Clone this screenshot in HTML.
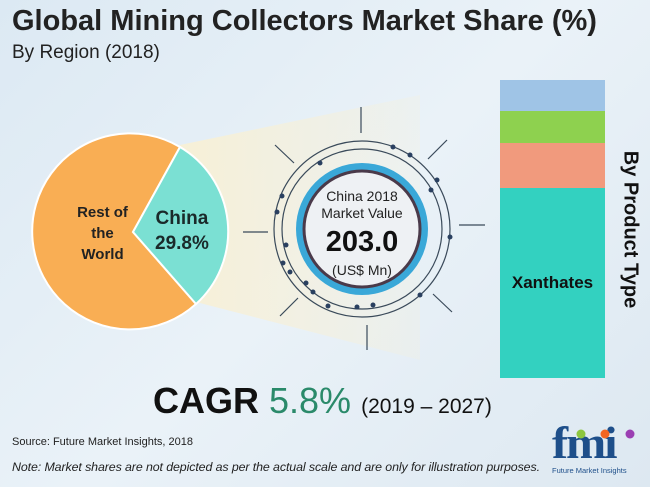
<!DOCTYPE html>
<html><head><style>
body{margin:0;width:650px;height:487px;overflow:hidden;font-family:"Liberation Sans",sans-serif;background:linear-gradient(135deg,#dce9f3 0%,#eaf2f8 50%,#dde8f1 100%);position:relative}
.t{position:absolute;white-space:nowrap}
</style></head><body>
<div class="t" style="left:12px;top:5px;font-size:29px;font-weight:bold;color:#222">Global Mining Collectors Market Share (%)</div>
<div class="t" style="left:12px;top:42px;font-size:19px;color:#222">By Region (2018)</div>
<svg width="650" height="487" style="position:absolute;left:0;top:0">
<defs><linearGradient id="bm" x1="0" x2="1"><stop offset="0" stop-color="#f8f0d5" stop-opacity="0.95"/><stop offset="1" stop-color="#f8f0d5" stop-opacity="0.2"/></linearGradient></defs>
<polygon points="180,145 420,95 420,360 196,302" fill="url(#bm)"/>
<path d="M133,232 L180,147 A98,98 0 1 0 196,304 Z" fill="#f9ae54" stroke="#fff" stroke-width="2"/>
<path d="M133,232 L180,147 A98,98 0 0 1 196,304 Z" fill="#7be0d3" stroke="#fff" stroke-width="2"/>
<g stroke="#3a4a5a" stroke-width="1.2" fill="none">
<circle cx="362" cy="229" r="80"/><circle cx="362" cy="229" r="88"/>
<line x1="361" y1="107" x2="361" y2="133"/><line x1="367" y1="325" x2="367" y2="350"/>
<line x1="243" y1="232" x2="268" y2="232"/><line x1="459" y1="225" x2="485" y2="225"/>
<line x1="275" y1="145" x2="294" y2="163"/><line x1="447" y1="140" x2="428" y2="159"/>
<line x1="280" y1="316" x2="298" y2="298"/><line x1="452" y1="312" x2="433" y2="294"/>
</g>
<g fill="#2a4060">
<circle cx="393" cy="147" r="2.5"/><circle cx="320" cy="163" r="2.5"/><circle cx="410" cy="155" r="2.5"/><circle cx="431" cy="190" r="2.5"/><circle cx="450" cy="237" r="2.5"/><circle cx="282" cy="196" r="2.5"/><circle cx="277" cy="212" r="2.5"/><circle cx="286" cy="245" r="2.5"/><circle cx="283" cy="263" r="2.5"/><circle cx="290" cy="272" r="2.5"/><circle cx="306" cy="283" r="2.5"/><circle cx="313" cy="292" r="2.5"/><circle cx="328" cy="306" r="2.5"/><circle cx="357" cy="307" r="2.5"/><circle cx="373" cy="305" r="2.5"/><circle cx="420" cy="295" r="2.5"/><circle cx="437" cy="180" r="2.5"/>
</g>
<circle cx="362" cy="229" r="66" fill="#3aa8d8"/>
<circle cx="362" cy="229" r="58" fill="#eef1f4" stroke="#4a3a4a" stroke-width="3"/>
<rect x="500" y="80" width="105" height="31" fill="#9fc4e6"/>
<rect x="500" y="111" width="105" height="32" fill="#8ed14f"/>
<rect x="500" y="143" width="105" height="45" fill="#f19a7d"/>
<rect x="500" y="188" width="105" height="190" fill="#33d1c0"/>
</svg>
<div class="t" style="left:55px;top:202px;width:95px;text-align:center;font-size:15px;font-weight:bold;line-height:21px;color:#222">Rest of<br>the<br>World</div>
<div class="t" style="left:155px;top:206px;font-size:19px;font-weight:bold;line-height:25px;color:#1a2a2a;text-align:center">China<br>29.8%</div>
<div class="t" style="left:302px;top:188px;width:120px;text-align:center;font-size:14px;color:#222;line-height:17px">China 2018<br>Market Value</div>
<div class="t" style="left:302px;top:226px;width:120px;text-align:center;font-size:29px;font-weight:bold;color:#111">203.0</div>
<div class="t" style="left:302px;top:262px;width:120px;text-align:center;font-size:14px;color:#222">(US$ Mn)</div>
<div class="t" style="left:500px;top:273px;width:105px;text-align:center;font-size:17px;font-weight:bold;color:#111">Xanthates</div>
<div class="t" style="left:540px;top:218px;width:180px;text-align:center;font-size:20px;font-weight:bold;color:#111;transform:rotate(90deg)">By Product Type</div>
<div class="t" style="left:153px;top:380px;font-size:36px;font-weight:bold;color:#111">CAGR <span style="color:#2a8a6a;font-weight:normal">5.8%</span> <span style="font-size:21px;font-weight:normal">(2019 – 2027)</span></div>
<div class="t" style="left:12px;top:436px;font-size:11px;color:#222">Source: Future Market Insights, 2018</div>
<div class="t" style="left:12px;top:460px;font-size:12.4px;font-style:italic;color:#222;letter-spacing:-0.1px">Note: Market shares are not depicted as per the actual scale and are only for illustration purposes.</div>
<div class="t" style="left:552px;top:416px;font-size:46px;font-weight:bold;font-family:'Liberation Serif',serif;color:#1e4f8a;letter-spacing:-2px;transform:scaleX(1.05);transform-origin:left">fmi</div>
<div class="t" style="left:552px;top:466px;font-size:7.5px;color:#1e4f8a">Future Market Insights</div>
<svg width="650" height="487" style="position:absolute;left:0;top:0">
<circle cx="581" cy="434" r="4.5" fill="#8dc63f"/><circle cx="605" cy="434" r="4.5" fill="#f26522"/><circle cx="630" cy="434" r="4.5" fill="#9b3fb3"/>
</svg>
</body></html>
